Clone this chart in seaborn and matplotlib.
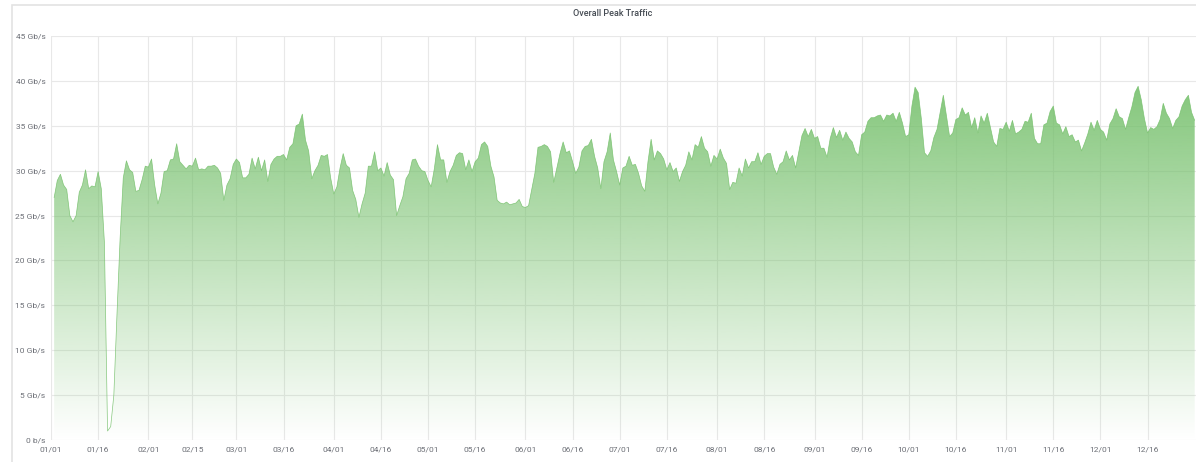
import numpy as np
import pandas as pd
import seaborn as sns
import matplotlib.pyplot as plt
import matplotlib.dates as mdates
from matplotlib.patches import Rectangle
from matplotlib.ticker import FuncFormatter

# daily peak traffic in Gb/s (series starts Jan 2)
jan = [27.0, 28.9, 29.6, 28.4, 27.9, 25.0, 24.3, 25.0, 27.6, 28.4, 30.1, 28.0, 28.3, 28.2, 29.9,
       28.0, 22.0, 1.0, 1.5, 5.0, 14.0, 22.5, 29.2, 31.1, 30.1, 29.8, 27.7, 27.8, 29.0, 30.5]
feb = [30.4, 31.3, 28.4, 26.3, 27.5, 29.9, 30.0, 31.2, 31.3, 33.0, 31.0, 30.6, 30.2, 30.6,
       30.5, 31.4, 30.1, 30.2, 30.1, 30.5, 30.5, 30.6, 30.3, 29.7, 26.7, 28.4, 29.1, 30.7]
mar = [31.3, 30.9, 29.2, 29.2, 29.6, 31.4, 30.2, 31.5, 30.0, 31.2, 28.8, 30.7, 31.3, 31.6, 31.6,
       31.8, 31.2, 32.6, 33.0, 35.0, 35.2, 36.3, 33.4, 32.2, 29.1, 30.0, 30.6, 31.7, 31.6, 31.8, 29.2]
apr = [27.4, 28.2, 30.3, 31.9, 30.6, 30.3, 27.8, 26.8, 24.8, 26.3, 27.5, 30.5, 30.5, 32.1, 30.0,
       30.3, 29.4, 30.9, 29.5, 29.0, 25.0, 26.1, 27.1, 29.1, 29.7, 31.2, 31.3, 30.5, 30.0, 29.9]
may = [28.9, 28.2, 30.2, 32.9, 31.2, 31.2, 28.7, 29.9, 30.6, 31.7, 32.0, 31.9, 30.1, 31.2, 29.9,
       31.0, 31.4, 32.9, 33.2, 32.7, 30.5, 29.3, 26.7, 26.4, 26.3, 26.5, 26.2, 26.3, 26.4, 26.8, 26.0]
jun = [25.9, 26.1, 27.9, 29.7, 32.6, 32.7, 32.9, 32.7, 32.1, 28.7, 30.3, 31.9, 33.2, 32.0, 32.2,
       31.0, 29.7, 30.4, 32.2, 32.7, 32.8, 33.5, 31.6, 30.3, 28.0, 31.0, 32.1, 34.2, 31.2, 29.9]
jul = [28.4, 30.3, 30.5, 31.6, 30.6, 30.7, 29.7, 28.3, 27.7, 31.0, 33.5, 31.2, 32.2, 31.9, 31.3,
       30.1, 30.9, 29.9, 30.3, 28.8, 29.9, 30.6, 32.1, 31.2, 32.9, 32.6, 33.8, 32.5, 32.1, 30.5, 31.7]
aug = [31.3, 32.4, 31.4, 30.8, 27.9, 28.7, 28.6, 30.3, 29.4, 31.3, 30.3, 31.0, 31.0, 32.0, 30.7,
       31.6, 31.9, 31.9, 30.4, 29.6, 30.7, 31.0, 32.2, 31.2, 31.7, 30.3, 32.1, 33.9, 34.7, 33.8, 34.6]
sep = [33.6, 33.8, 32.5, 32.5, 31.5, 33.6, 34.8, 33.7, 34.5, 33.4, 34.3, 33.6, 33.2, 32.1, 31.7,
       34.0, 34.3, 35.5, 35.9, 35.9, 36.1, 36.2, 35.5, 36.2, 36.1, 36.4, 35.5, 36.5, 35.3, 33.8]
oct_ = [34.0, 37.2, 39.3, 38.7, 35.8, 32.0, 31.6, 32.2, 33.7, 34.6, 36.5, 38.4, 36.1, 33.8, 34.2,
        35.7, 35.9, 37.0, 36.2, 36.5, 34.8, 35.9, 34.2, 36.1, 35.3, 36.4, 34.8, 33.2, 32.7, 34.7, 34.6]
nov = [35.4, 34.4, 35.6, 34.1, 34.3, 34.6, 35.5, 35.4, 36.4, 33.6, 33.0, 33.0, 35.1, 35.3, 36.6,
       37.2, 35.3, 35.1, 34.1, 34.9, 33.8, 34.0, 33.2, 33.4, 32.2, 33.1, 34.1, 35.4, 34.5, 35.6]
dec = [34.6, 34.3, 33.4, 35.2, 35.8, 36.9, 36.0, 35.8, 34.6, 35.9, 37.1, 38.7, 39.4, 37.9, 35.8,
       34.2, 34.8, 34.6, 34.9, 35.7, 37.5, 36.4, 35.8, 34.7, 35.6, 36.0, 37.2, 37.9, 38.4, 36.5, 35.6]

tick_dates = ["2019-01-01", "2019-01-16", "2019-02-01", "2019-02-15", "2019-03-01", "2019-03-16",
              "2019-04-01", "2019-04-16", "2019-05-01", "2019-05-16", "2019-06-01", "2019-06-16",
              "2019-07-01", "2019-07-16", "2019-08-01", "2019-08-16", "2019-09-01", "2019-09-16",
              "2019-10-01", "2019-10-16", "2019-11-01", "2019-11-16", "2019-12-01", "2019-12-16"]
y_ticks = [0, 5, 10, 15, 20, 25, 30, 35, 40, 45]

GREEN = "#73bf69"


def build_frame():
    values = jan + feb + mar + apr + may + jun + jul + aug + sep + oct_ + nov + dec
    dates = pd.date_range("2019-01-02", periods=len(values), freq="D")
    return pd.DataFrame({"time": dates, "traffic": values})


def gb_label(v, _pos):
    return "0 b/s" if v == 0 else f"{int(v)} Gb/s"


def plot_traffic(df, output_path="out.png"):
    sns.set_theme(style="white")
    plt.rcParams["font.family"] = ["Roboto", "DejaVu Sans"]

    W, H = 1196, 462
    fig = plt.figure(figsize=(W / 100, H / 100), dpi=100)
    ax = fig.add_axes([51 / W, 22 / H, 1 - 51 / W, 404 / H])

    # panel frame and title, grafana style
    fig.patches.append(Rectangle((12 / W, -0.1), 1.2, 1.1 - 5 / H, transform=fig.transFigure,
                                 fill=False, edgecolor="#e3e3e3", lw=1.2))
    fig.text(613 / W, 1 - 14 / H, "Overall Peak Traffic", ha="center", va="center",
             fontsize=6.5, fontweight="medium", color="#464c54")

    ymax = 45
    xnum = mdates.date2num(df["time"])
    poly = ax.fill_between(xnum, 0, df["traffic"], facecolor="none", edgecolor="none")

    # vertical opacity gradient clipped to the area
    rgba = np.zeros((256, 1, 4))
    rgba[..., :3] = plt.matplotlib.colors.to_rgb(GREEN)
    rgba[..., 3] = np.linspace(0, 1, 256).reshape(-1, 1)
    x0 = mdates.date2num(pd.Timestamp("2019-01-01"))
    x1 = mdates.date2num(pd.Timestamp("2019-12-31 10:00"))
    im = ax.imshow(rgba, extent=[x0, x1, 0, ymax], origin="lower", aspect="auto",
                   interpolation="bilinear", zorder=1)
    im.set_clip_path(poly.get_paths()[0], transform=ax.transData)

    sns.lineplot(data=df, x="time", y="traffic", ax=ax, color=GREEN, linewidth=0.5,
                 alpha=0.85, zorder=2)

    ax.set_xlim(x0, x1)
    ax.set_ylim(0, ymax)
    ax.set_xticks(mdates.date2num(pd.to_datetime(tick_dates)))
    ax.xaxis.set_major_formatter(mdates.DateFormatter("%m/%d"))
    ax.set_yticks(y_ticks)
    ax.yaxis.set_major_formatter(FuncFormatter(gb_label))
    ax.set_xlabel("")
    ax.set_ylabel("")

    ax.set_axisbelow(True)
    ax.grid(True, color="#e8e8e8", linewidth=0.8)
    for s in ax.spines.values():
        s.set_visible(False)
    ax.tick_params(axis="both", length=0, labelsize=6, colors="#6c6f76")
    ax.tick_params(axis="y", pad=4)
    ax.tick_params(axis="x", pad=5)

    fig.savefig(output_path, dpi=100)


if __name__ == "__main__":
    plot_traffic(build_frame())
